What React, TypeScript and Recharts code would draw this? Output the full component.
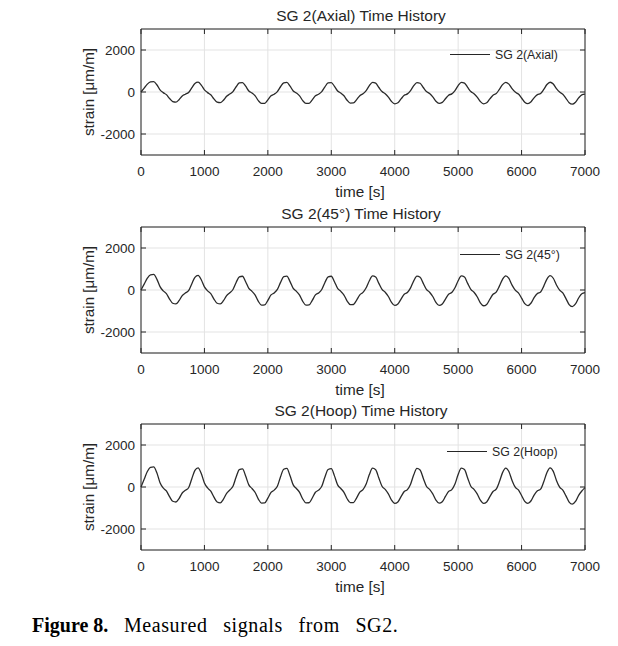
import React from 'react'
import { CartesianGrid, Line, LineChart, ReferenceArea, XAxis, YAxis } from 'recharts'

const timeStep = 50 // seconds between samples
const timeTicks = [0, 1000, 2000, 3000, 4000, 5000, 6000, 7000]
const strainTicks = [-2000, 0, 2000]

// one row per load cycle (~700 s)
const axialStrain = [
  0, 185, 375, 480, 490, 345, 105, -30, -125, -310, -455, -480, -365, -190,
  -105, -25, 195, 410, 470, 330, 100, -30, -135, -330, -485, -510, -390, -205,
  -100, 20, 250, 430, 450, 275, 50, -50, -185, -410, -545, -540, -375, -180,
  -105, 20, 250, 435, 455, 275, 50, -50, -185, -410, -545, -540, -375, -180,
  -105, 20, 245, 430, 445, 270, 50, -50, -180, -395, -525, -520, -360, -175,
  -85, 70, 300, 455, 420, 215, 20, -80, -240, -455, -565, -515, -330, -155,
  -90, 70, 300, 450, 415, 215, 20, -75, -230, -440, -545, -495, -320, -150,
  -90, 70, 305, 460, 425, 220, 20, -80, -240, -455, -565, -515, -330, -155,
  -75, 125, 350, 460, 375, 160, -5, -100, -285, -485, -550, -460, -265, -125,
  -70, 125, 355, 465, 380, 160, -5, -105, -300, -510, -580, -485, -280, -135,
  -100,
]

const strain45 = [
  0, 280, 565, 725, 740, 520, 160, -40, -175, -430, -630, -665, -510, -265,
  -145, -35, 290, 605, 695, 490, 150, -40, -175, -430, -630, -665, -510, -265,
  -130, 25, 360, 625, 655, 395, 75, -65, -245, -540, -720, -710, -495, -235,
  -140, 30, 365, 635, 660, 400, 75, -65, -245, -540, -720, -710, -495, -235,
  -140, 25, 360, 625, 655, 395, 75, -65, -240, -525, -700, -690, -480, -230,
  -115, 105, 440, 670, 615, 315, 30, -105, -310, -590, -735, -665, -430, -200,
  -120, 100, 435, 660, 605, 315, 25, -105, -310, -590, -735, -665, -430, -200,
  -120, 105, 440, 670, 615, 315, 30, -105, -320, -610, -750, -685, -440, -205,
  -100, 185, 510, 675, 550, 230, -5, -135, -385, -650, -740, -620, -355, -170,
  -95, 185, 520, 685, 560, 235, -10, -140, -410, -695, -790, -665, -380, -180,
  -130,
]

const hoopStrain = [
  0, 365, 735, 940, 960, 675, 205, -45, -190, -460, -680, -715, -550, -285,
  -155, -35, 385, 795, 915, 645, 195, -45, -200, -485, -715, -755, -580, -300,
  -145, 35, 475, 830, 865, 520, 100, -70, -260, -575, -765, -760, -530, -255,
  -150, 35, 490, 845, 885, 535, 100, -70, -255, -570, -755, -750, -525, -250,
  -150, 35, 480, 835, 875, 530, 100, -70, -255, -560, -745, -740, -515, -245,
  -125, 140, 590, 895, 825, 425, 35, -110, -330, -630, -780, -710, -460, -215,
  -125, 135, 580, 885, 810, 420, 35, -110, -330, -625, -770, -700, -450, -210,
  -125, 140, 595, 900, 830, 430, 35, -110, -330, -630, -780, -710, -460, -215,
  -105, 245, 685, 900, 735, 310, -10, -140, -405, -685, -780, -655, -375, -180,
  -100, 250, 690, 910, 745, 315, -10, -150, -425, -720, -820, -690, -395, -190,
  -30,
]

const data = axialStrain.map((v, i) => ({
  time: i * timeStep,
  axial: v,
  deg45: strain45[i],
  hoop: hoopStrain[i],
}))

const FONT = '"Liberation Sans", Arial, sans-serif'
const AXIS = '#262626'
const W = 618
const H = 197
const PLOT_TOP = 29
const PLOT_H = 126
const PLOT_LEFT = 141
const PLOT_RIGHT = 585

const XTick = (props: any) => {
  const { x, y, payload } = props
  const bottom = PLOT_TOP + PLOT_H
  return (
    <g>
      <line x1={x} x2={x} y1={bottom} y2={bottom - 5} stroke={AXIS} />
      <line x1={x} x2={x} y1={PLOT_TOP} y2={PLOT_TOP + 5} stroke={AXIS} />
      <text x={x} y={y} dy="0.71em" textAnchor="middle" fontFamily={FONT} fontSize={13.5} fill={AXIS}>
        {payload.value}
      </text>
    </g>
  )
}

const YTick = (props: any) => {
  const { x, y, payload } = props
  return (
    <g>
      <line x1={PLOT_LEFT} x2={PLOT_LEFT + 5} y1={y} y2={y} stroke={AXIS} />
      <line x1={PLOT_RIGHT} x2={PLOT_RIGHT - 5} y1={y} y2={y} stroke={AXIS} />
      <text x={x} y={y} dy="0.36em" textAnchor="end" fontFamily={FONT} fontSize={13.5} fill={AXIS}>
        {payload.value}
      </text>
    </g>
  )
}

type PanelProps = {
  top: number
  title: string
  dataKey: string
  legend: string
  legendX: number
  legendY: number
}

const Panel: React.FC<PanelProps> = ({ top, title, dataKey, legend, legendX, legendY }) => {
  return (
    <div style={{ position: 'absolute', left: 0, top, width: W, height: H }}>
      <LineChart width={W} height={H} data={data}
        margin={{ top: PLOT_TOP, right: W - PLOT_RIGHT, left: PLOT_LEFT - 60, bottom: 0 }}>
        <CartesianGrid stroke="#e3e3e3" />
        <XAxis dataKey="time" type="number" domain={[0, 7000]} ticks={timeTicks}
          height={H - PLOT_TOP - PLOT_H} tickLine={false} axisLine={false} tickSize={0} tickMargin={11}
          tick={<XTick />} />
        <YAxis type="number" domain={[-3000, 3000]} ticks={strainTicks} width={60}
          tickLine={false} axisLine={false} tickSize={0} tickMargin={6} tick={<YTick />} />
        <ReferenceArea x1={0} x2={7000} y1={-3000} y2={3000} fill="none" fillOpacity={0}
          stroke={AXIS} strokeWidth={1} strokeOpacity={1} />
        <Line type="monotone" dataKey={dataKey} stroke="#2a2a2a" strokeWidth={1.3}
          dot={false} isAnimationActive={false} />
      </LineChart>
      <div style={{ position: 'absolute', left: 0, width: 722, top: 7, textAlign: 'center',
        fontFamily: FONT, fontSize: 15.5, lineHeight: '18px', color: AXIS, whiteSpace: 'nowrap' }}>
        {title}
      </div>
      <div style={{ position: 'absolute', left: 0, width: 720, top: 183, textAlign: 'center',
        fontFamily: FONT, fontSize: 15.3, lineHeight: '18px', color: AXIS, whiteSpace: 'nowrap' }}>
        time [s]
      </div>
      <div style={{ position: 'absolute', left: 88.5 - 60, top: 92 - 9, width: 120, textAlign: 'center',
        transform: 'rotate(-90deg)', fontFamily: FONT, fontSize: 15.2, lineHeight: '18px', color: AXIS,
        whiteSpace: 'nowrap' }}>
        strain [μm/m]
      </div>
      <div style={{ position: 'absolute', left: legendX, top: legendY - 0.6, width: 40,
        borderTop: '1.3px solid #262626' }} />
      <div style={{ position: 'absolute', left: legendX + 45, top: legendY - 8, fontFamily: FONT,
        fontSize: 12.3, lineHeight: '16px', color: AXIS, whiteSpace: 'nowrap' }}>
        {legend}
      </div>
    </div>
  )
}

const App: React.FC = () => {
  return (
    <div style={{ position: 'absolute', left: 0, top: 0, width: W, height: 646, background: '#fff' }}>
      <Panel top={0} title="SG 2(Axial) Time History" dataKey="axial" legend="SG 2(Axial)"
        legendX={450} legendY={55} />
      <Panel top={198} title="SG 2(45°) Time History" dataKey="deg45" legend="SG 2(45°)"
        legendX={460} legendY={56.5} />
      <Panel top={395} title="SG 2(Hoop) Time History" dataKey="hoop" legend="SG 2(Hoop)"
        legendX={447} legendY={56.5} />
      <div style={{ position: 'absolute', left: 32, top: 615, fontFamily: '"Liberation Serif", "Times New Roman", serif',
        fontSize: 20, lineHeight: '20px', color: '#000', whiteSpace: 'nowrap' }}>
        <b>Figure 8.</b>
        <span style={{ wordSpacing: 10, letterSpacing: 0.6 }}> Measured signals from SG2.</span>
      </div>
    </div>
  )
}

export default App
